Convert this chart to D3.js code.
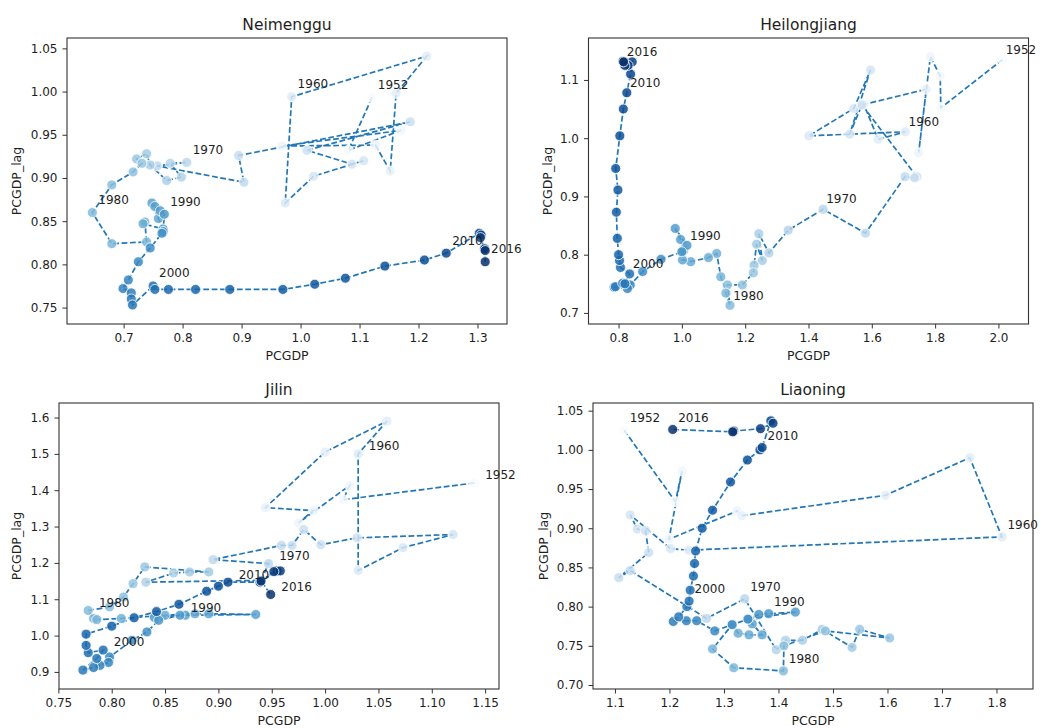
<!DOCTYPE html>
<html>
<head>
<meta charset="utf-8">
<script src="https://cdn.jsdelivr.net/npm/d3@7/dist/d3.min.js"></script>
<style>
  body { margin: 0; background: #ffffff; }
  text { font-family: "DejaVu Sans", sans-serif; }
</style>
</head>
<body>
<svg id="chart" width="1048" height="728"></svg>
<script>
// years of the series, and the years that get a text label
const years = [1952, 1953, 1954, 1955, 1956, 1957, 1958, 1959, 1960, 1961, 1962, 1963, 1964,
  1965, 1966, 1967, 1968, 1969, 1970, 1971, 1972, 1973, 1974, 1975, 1976, 1977, 1978, 1979,
  1980, 1981, 1982, 1983, 1984, 1985, 1986, 1987, 1988, 1989, 1990, 1991, 1992, 1993, 1994,
  1995, 1996, 1997, 1998, 1999, 2000, 2001, 2002, 2003, 2004, 2005, 2006, 2007, 2008, 2009,
  2010, 2011, 2012, 2013, 2014, 2015, 2016];
const labelYears = [1952, 1960, 1970, 1980, 1990, 2000, 2010, 2016];

// Neimenggu
const neimengguX = [1.121, 1.081, 1.170, 0.968, 1.127, 1.152, 1.162, 1.214, 0.985, 0.974, 1.022, 1.107, 1.087,
  1.011, 1.186, 0.895, 0.904, 0.757, 0.807, 0.779, 0.798, 0.773, 0.745, 0.739, 0.722, 0.731, 0.716, 0.680,
  0.647, 0.680, 0.739, 0.736, 0.733, 0.767, 0.759, 0.748, 0.753, 0.762, 0.769, 0.767, 0.765, 0.745, 0.725,
  0.708, 0.699, 0.713, 0.713, 0.715, 0.750, 0.753, 0.776, 0.822, 0.880, 0.970, 1.024, 1.076, 1.143, 1.210,
  1.247, 1.303, 1.306, 1.305, 1.312, 1.313, 1.313];
const neimengguY = [0.993, 0.932, 0.955, 0.937, 0.938, 0.908, 0.998, 1.041, 0.994, 0.871, 0.902, 0.920, 0.916,
  0.932, 0.965, 0.926, 0.895, 0.914, 0.918, 0.917, 0.901, 0.897, 0.915, 0.928, 0.922, 0.917, 0.907, 0.892,
  0.860, 0.824, 0.826, 0.849, 0.847, 0.841, 0.853, 0.871, 0.867, 0.862, 0.858, 0.838, 0.836, 0.819, 0.803,
  0.782, 0.772, 0.767, 0.760, 0.753, 0.775, 0.771, 0.771, 0.771, 0.771, 0.771, 0.777, 0.784, 0.798, 0.805,
  0.813, 0.836, 0.834, 0.831, 0.818, 0.816, 0.803];

// Heilongjiang
const heilongjiangX = [2.013, 1.818, 1.816, 1.785, 1.748, 1.772, 1.575, 1.620, 1.706, 1.401, 1.543, 1.596, 1.530,
  1.569, 1.742, 1.735, 1.705, 1.580, 1.446, 1.336, 1.275, 1.243, 1.254, 1.236, 1.228, 1.226, 1.191, 1.144,
  1.152, 1.139, 1.123, 1.110, 1.084, 1.028, 1.002, 1.005, 0.996, 0.979, 1.016, 1.000, 0.934, 0.876, 0.837,
  0.828, 0.786, 0.790, 0.813, 0.820, 0.835, 0.806, 0.803, 0.800, 0.796, 0.793, 0.798, 0.791, 0.804, 0.815,
  0.826, 0.838, 0.843, 0.830, 0.820, 0.814, 0.816];
const heilongjiangY = [1.135, 1.052, 1.107, 1.140, 0.975, 1.084, 1.058, 0.998, 1.011, 1.004, 1.051, 1.117, 1.007,
  1.057, 0.934, 0.932, 0.934, 0.837, 0.878, 0.842, 0.803, 0.836, 0.790, 0.818, 0.782, 0.769, 0.748, 0.748,
  0.713, 0.734, 0.762, 0.802, 0.795, 0.788, 0.791, 0.807, 0.826, 0.845, 0.816, 0.805, 0.792, 0.771, 0.748,
  0.742, 0.744, 0.745, 0.751, 0.750, 0.767, 0.778, 0.790, 0.800, 0.828, 0.873, 0.911, 0.948, 1.004, 1.050,
  1.078, 1.110, 1.131, 1.125, 1.125, 1.132, 1.131];

// Jilin
const jilinX = [1.140, 1.017, 1.023, 0.975, 0.989, 0.944, 1.000, 1.058, 1.031, 1.031, 1.073, 1.120, 1.030,
  0.996, 0.980, 0.969, 0.959, 0.895, 0.947, 0.940, 0.832, 0.858, 0.873, 0.891, 0.831, 0.820, 0.811, 0.798,
  0.778, 0.783, 0.786, 0.809, 0.850, 0.878, 0.891, 0.935, 0.869, 0.840, 0.864, 0.844, 0.833, 0.819, 0.798,
  0.797, 0.789, 0.783, 0.773, 0.786, 0.792, 0.778, 0.776, 0.776, 0.800, 0.821, 0.842, 0.863, 0.889, 0.900,
  0.909, 0.939, 0.955, 0.958, 0.952, 0.940, 0.949];
const jilinY = [1.420, 1.374, 1.413, 1.310, 1.344, 1.352, 1.505, 1.590, 1.500, 1.179, 1.242, 1.278, 1.269,
  1.250, 1.292, 1.248, 1.248, 1.209, 1.198, 1.152, 1.147, 1.172, 1.175, 1.175, 1.189, 1.143, 1.106, 1.079,
  1.069, 1.047, 1.044, 1.047, 1.056, 1.060, 1.060, 1.058, 1.056, 1.050, 1.056, 1.042, 1.010, 0.987, 0.941,
  0.926, 0.918, 0.912, 0.905, 0.937, 0.960, 0.953, 0.973, 1.004, 1.026, 1.049, 1.066, 1.086, 1.122, 1.136,
  1.147, 1.147, 1.178, 1.178, 1.176, 1.150, 1.113];

// Liaoning
const liaoningX = [1.117, 1.211, 1.223, 1.199, 1.324, 1.333, 1.596, 1.751, 1.810, 1.236, 1.202, 1.128, 1.141,
  1.156, 1.162, 1.107, 1.128, 1.268, 1.338, 1.396, 1.413, 1.444, 1.480, 1.535, 1.549, 1.604, 1.486, 1.410,
  1.409, 1.318, 1.279, 1.315, 1.326, 1.346, 1.370, 1.352, 1.344, 1.431, 1.382, 1.364, 1.344, 1.315, 1.283,
  1.250, 1.231, 1.207, 1.217, 1.232, 1.236, 1.238, 1.244, 1.246, 1.248, 1.260, 1.279, 1.312, 1.343, 1.366,
  1.370, 1.386, 1.390, 1.367, 1.318, 1.316, 1.206];
const liaoningY = [1.025, 0.934, 0.973, 0.886, 0.922, 0.916, 0.942, 0.990, 0.889, 0.872, 0.874, 0.917, 0.899,
  0.897, 0.869, 0.837, 0.846, 0.785, 0.810, 0.745, 0.757, 0.757, 0.771, 0.748, 0.771, 0.760, 0.769, 0.750,
  0.718, 0.722, 0.746, 0.777, 0.766, 0.764, 0.764, 0.778, 0.784, 0.793, 0.791, 0.790, 0.784, 0.777, 0.769,
  0.782, 0.782, 0.781, 0.787, 0.800, 0.807, 0.821, 0.839, 0.855, 0.871, 0.900, 0.923, 0.959, 0.987, 1.000,
  1.003, 1.037, 1.034, 1.027, 1.024, 1.023, 1.026];

// axis ranges and tick values
const neimengguXDomain = [0.604, 1.350], neimengguYDomain = [0.731, 1.062];
const neimengguXTicks = [0.7, 0.8, 0.9, 1.0, 1.1, 1.2, 1.3];
const neimengguYTicks = [0.75, 0.80, 0.85, 0.90, 0.95, 1.00, 1.05];
const heilongjiangXDomain = [0.705, 2.095], heilongjiangYDomain = [0.681, 1.172];
const heilongjiangXTicks = [0.8, 1.0, 1.2, 1.4, 1.6, 1.8, 2.0];
const heilongjiangYTicks = [0.7, 0.8, 0.9, 1.0, 1.1];
const jilinXDomain = [0.7506, 1.163], jilinYDomain = [0.853, 1.640];
const jilinXTicks = [0.75, 0.80, 0.85, 0.90, 0.95, 1.00, 1.05, 1.10, 1.15];
const jilinYTicks = [0.9, 1.0, 1.1, 1.2, 1.3, 1.4, 1.5, 1.6];
const liaoningXDomain = [1.0597, 1.867], liaoningYDomain = [0.6949, 1.0598];
const liaoningXTicks = [1.1, 1.2, 1.3, 1.4, 1.5, 1.6, 1.7, 1.8];
const liaoningYTicks = [0.70, 0.75, 0.80, 0.85, 0.90, 0.95, 1.00, 1.05];

const W = 440, H = 286;

const panels = [
  { title: "Neimenggu", xs: neimengguX, ys: neimengguY, xDomain: neimengguXDomain, yDomain: neimengguYDomain,
    xTicks: neimengguXTicks, yTicks: neimengguYTicks, xFmt: ".1f", yFmt: ".2f", left: 67, top: 38, ylab: -46 },
  { title: "Heilongjiang", xs: heilongjiangX, ys: heilongjiangY, xDomain: heilongjiangXDomain, yDomain: heilongjiangYDomain,
    xTicks: heilongjiangXTicks, yTicks: heilongjiangYTicks, xFmt: ".1f", yFmt: ".1f", left: 588.5, top: 38, ylab: -37 },
  { title: "Jilin", xs: jilinX, ys: jilinY, xDomain: jilinXDomain, yDomain: jilinYDomain,
    xTicks: jilinXTicks, yTicks: jilinYTicks, xFmt: ".2f", yFmt: ".1f", left: 59, top: 403, ylab: -38 },
  { title: "Liaoning", xs: liaoningX, ys: liaoningY, xDomain: liaoningXDomain, yDomain: liaoningYDomain,
    xTicks: liaoningXTicks, yTicks: liaoningYTicks, xFmt: ".1f", yFmt: ".2f", left: 593, top: 403, ylab: -45 }
];

const svg = d3.select("#chart");
const color = d3.scaleSequential(d3.interpolateBlues).domain([years[0], years[years.length - 1]]);
const ink = "#1e1e1e";

panels.forEach(function (p) {
  const x = d3.scaleLinear().domain(p.xDomain).range([0, W]);
  const y = d3.scaleLinear().domain(p.yDomain).range([H, 0]);
  const rows = years.map((yr, i) => ({ year: yr, x: p.xs[i], y: p.ys[i] }));

  const g = svg.append("g")
    .attr("transform", "translate(" + p.left + "," + p.top + ")");

  // dashed path in year order
  g.append("path")
    .datum(rows)
    .attr("d", d3.line().x(d => x(d.x)).y(d => y(d.y)))
    .attr("fill", "none")
    .attr("stroke", "#2277b6")
    .attr("stroke-width", 1.7)
    .attr("stroke-dasharray", "5.8,2.6");

  g.selectAll("circle")
    .data(rows)
    .enter().append("circle")
    .attr("cx", d => x(d.x))
    .attr("cy", d => y(d.y))
    .attr("r", 5)
    .attr("fill", d => color(d.year))
    .attr("fill-opacity", 0.85)
    .attr("stroke", "#ffffff")
    .attr("stroke-width", 0.8);

  g.selectAll(".yr")
    .data(rows.filter(d => labelYears.includes(d.year)))
    .enter().append("text")
    .attr("class", "yr")
    .attr("x", d => x(d.x + 0.01))
    .attr("y", d => y(d.y + 0.01))
    .attr("fill", ink)
    .style("font-size", "12px")
    .text(d => d.year);

  const xAxis = g.append("g")
    .attr("transform", "translate(0," + H + ")")
    .call(d3.axisBottom(x).tickValues(p.xTicks).tickFormat(d3.format(p.xFmt)).tickSizeOuter(0).tickSize(4.5).tickPadding(5));
  const yAxis = g.append("g")
    .call(d3.axisLeft(y).tickValues(p.yTicks).tickFormat(d3.format(p.yFmt)).tickSizeOuter(0).tickSize(4.5).tickPadding(5));
  [xAxis, yAxis].forEach(a => {
    a.select(".domain").remove();
    a.selectAll("line").attr("stroke", "#333").attr("stroke-width", 1);
    a.selectAll("text").attr("fill", ink).style("font-size", "12px").style("font-family", "DejaVu Sans");
  });

  g.append("rect")
    .attr("width", W).attr("height", H)
    .attr("fill", "none")
    .attr("stroke", "#333")
    .attr("stroke-width", 1.1);

  g.append("text")
    .attr("x", W / 2).attr("y", -8)
    .attr("text-anchor", "middle")
    .attr("fill", ink)
    .style("font-size", "15.5px")
    .text(p.title);

  g.append("text")
    .attr("x", W / 2).attr("y", H + 36)
    .attr("text-anchor", "middle")
    .attr("fill", ink)
    .style("font-size", "12.5px")
    .text("PCGDP");

  g.append("text")
    .attr("transform", "translate(" + p.ylab + "," + (H / 2) + ") rotate(-90)")
    .attr("text-anchor", "middle")
    .attr("fill", ink)
    .style("font-size", "12.5px")
    .text("PCGDP_lag");
});
</script>
</body>
</html>
